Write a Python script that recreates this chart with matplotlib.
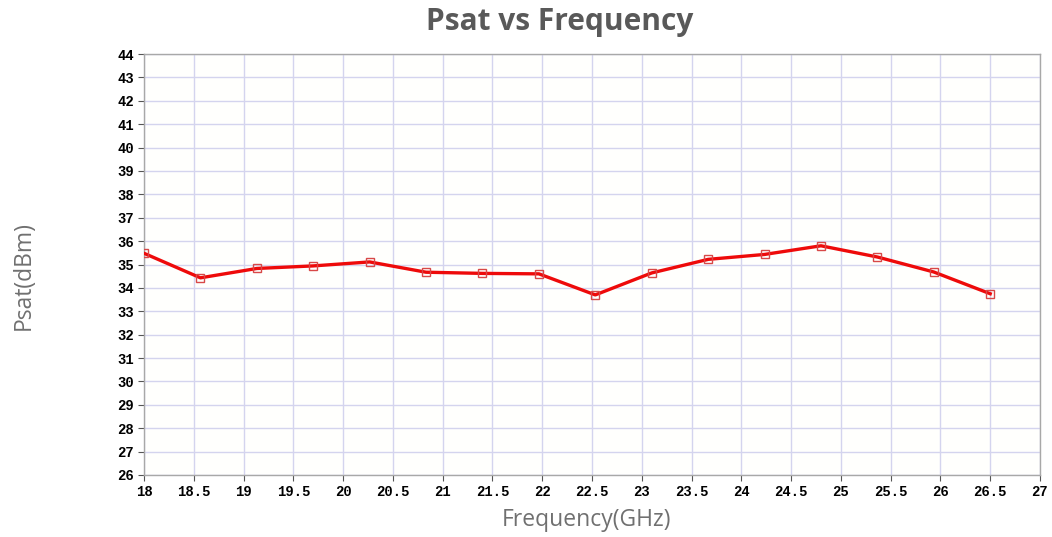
import numpy as np
import matplotlib
matplotlib.use('Agg')
import matplotlib.pyplot as plt

# Frequency points (GHz) and saturated output power (dBm)
freq = [18.0, 18.567, 19.133, 19.7, 20.267, 20.833, 21.4, 21.967,
        22.533, 23.1, 23.667, 24.233, 24.8, 25.367, 25.933, 26.5]
psat = [35.48, 34.43, 34.83, 34.94, 35.11, 34.67, 34.62, 34.6,
        33.7, 34.64, 35.22, 35.43, 35.8, 35.32, 34.68, 33.75]

x_ticks = np.arange(18, 27.01, 0.5)
y_ticks = np.arange(26, 44.01, 1)

fig = plt.figure(figsize=(10.52, 5.37), dpi=100)
ax = fig.add_axes([144 / 1052, 1 - 475 / 537, (1040 - 144) / 1052, (475 - 54) / 537])
ax.set_facecolor('#fffffd')

ax.plot(freq, psat, color='#ee0a0a', linewidth=2.4, marker='s', markersize=6,
        markerfacecolor='none', markeredgecolor='#d84848', markeredgewidth=1.0,
        zorder=3)

ax.set_xlim(18, 27)
ax.set_ylim(26, 44)
ax.set_xticks(x_ticks)
ax.set_yticks(y_ticks)
ax.set_xticklabels([('%g' % v) for v in x_ticks])
ax.set_yticklabels([('%d' % v) for v in y_ticks])
for lab in ax.get_xticklabels() + ax.get_yticklabels():
    lab.set_family('Liberation Mono')
    lab.set_fontweight('bold')
    lab.set_fontsize(10)
ax.tick_params(direction='out', length=4, width=0.8, color='#555555', pad=3)

ax.grid(True, color='#d4d4ee', linewidth=1.0)
ax.set_axisbelow(True)
for s in ax.spines.values():
    s.set_color('#a8a8a8')
    s.set_linewidth(1.0)

fig.text(0.532, 1 - 22 / 537, 'Psat vs Frequency', ha='center', va='center',
         fontsize=21.5, fontweight='bold', color='#595959', family='Open Sans')
fig.text(586 / 1052, 1 - 520 / 537, 'Frequency(GHz)', ha='center', va='center',
         fontsize=16.5, color='#707070', family='Open Sans')
fig.text(24 / 1052, 1 - 276 / 537, 'Psat(dBm)', ha='center', va='center',
         rotation=90, fontsize=16.5, color='#707070', family='Open Sans')

fig.savefig('out.png', dpi=100)
